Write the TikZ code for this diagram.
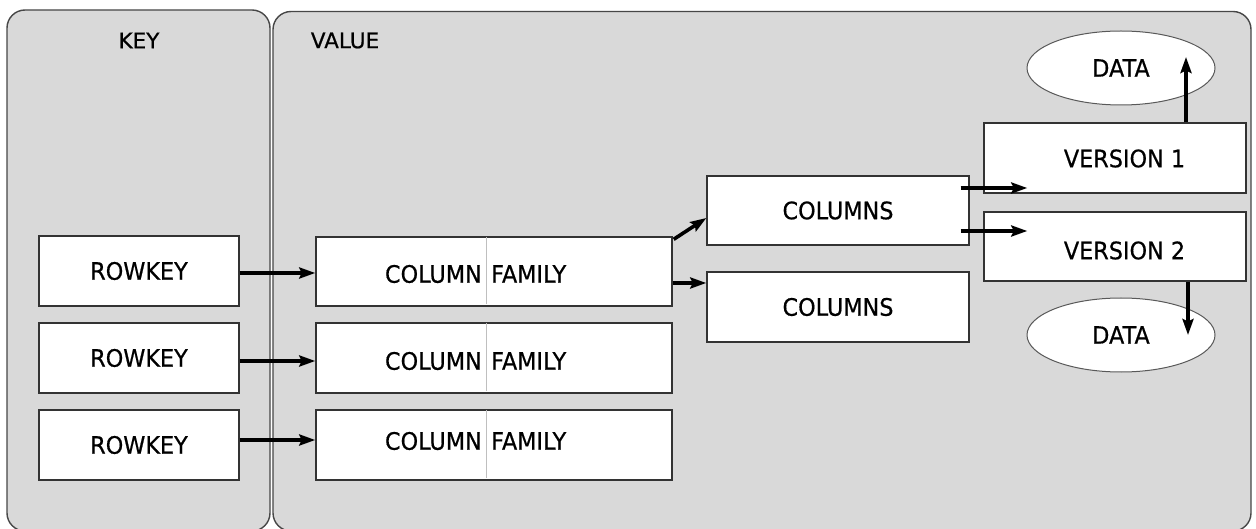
\documentclass[tikz,border=0pt]{standalone}
\usepackage{fontspec}
\setmainfont{DejaVu Sans}[FakeStretch=0.93,FakeBold=0.6]
\newfontfamily\titlefont{DejaVu Sans}[FakeBold=0.6]
\usetikzlibrary{arrows.meta,shapes.geometric,calc}

\begin{document}
\begin{tikzpicture}[x=1pt,y=-1pt,
  panel/.style={draw=black!72, line width=1.4pt, fill=black!15, rounded corners=18pt},
  box/.style={draw=black!80, line width=1.4pt, fill=white, inner sep=0pt,
              font=\fontsize{24}{28}\selectfont},
  lbl/.style={font=\fontsize{24}{28}\selectfont, inner sep=0pt},
  ttl/.style={font=\titlefont\fontsize{21.5}{25}\selectfont, inner sep=0pt},
  dataell/.style={ellipse, draw=black!65, line width=1pt, fill=white,
                  minimum width=188pt, minimum height=74pt, inner sep=0pt,
                  font=\fontsize{24}{28}\selectfont},
  divider/.style={draw=black!25, line width=1pt},
  arr/.style={line width=3.6pt, -{Stealth[length=16pt,width=11pt,inset=2.5pt]}},
]
\useasboundingbox (0,0) rectangle (1256,529);
\fill[white] (0,0) rectangle (1256,529);

% the two panels
\path[panel] (7,10) rectangle (270,531);
\path[panel] (273,11.5) rectangle (1251,531);
\node[ttl] (keyttl) at (139,40.5) {KEY};
\node[ttl] (valttl) at (345,40.5) {VALUE};

% row keys
\node[box, minimum width=200pt, minimum height=70pt] (rk1) at (139,271) {ROWKEY};
\node[box, minimum width=200pt, minimum height=70pt] (rk2) at (139,358) {ROWKEY};
\node[box, minimum width=200pt, minimum height=70pt] (rk3) at (139,445) {ROWKEY};

% column families
\node[box, minimum width=356pt, minimum height=69pt] (cf1) at (494,271.5) {};
\node[box, minimum width=356pt, minimum height=70pt] (cf2) at (494,358) {};
\node[box, minimum width=356pt, minimum height=70pt] (cf3) at (494,445) {};
\foreach \c/\ty in {cf1/274, cf2/361, cf3/441} {
  \draw[divider] ($(\c.north west)+(171,1)$) -- ($(\c.south west)+(171,-3)$);
  \node[lbl, anchor=east] (\c a) at (482,\ty) {COLUMN};
  \node[lbl, anchor=west] (\c b) at (491,\ty) {FAMILY};
}

% columns
\node[box, minimum width=262pt, minimum height=69pt] (col1) at (838,210.5) {COLUMNS};
\node[box, minimum width=262pt, minimum height=70pt] (col2) at (838,307) {COLUMNS};

% versions
\node[box, minimum width=262pt, minimum height=70pt] (v1) at (1115,158) {};
\node[box, minimum width=262pt, minimum height=69pt] (v2) at (1115,246.5) {};
\node[lbl] (v1t) at (1124.5,158.5) {VERSION 1};
\node[lbl] (v2t) at (1124.5,250.5) {VERSION 2};

% data cells
\node[dataell] (d1) at (1121,68) {DATA};
\node[dataell] (d2) at (1121,335) {DATA};

% row keys to column families
\draw[arr] (rk1.east |- 0,273) -- (cf1.west |- 0,273);
\draw[arr] (rk2.east |- 0,361) -- (cf2.west |- 0,361);
\draw[arr] (rk3.east |- 0,440) -- (cf3.west |- 0,440);

% column family to columns
\draw[arr] ($(cf1.north east)+(1,3)$) -- (col1.west |- 0,218);
\draw[arr] (cf1.east |- 0,283) -- (col2.west |- 0,283);

% columns to versions
\draw[arr] ($(col1.east |- 0,188)+(-9,0)$) -- ($(v1.west |- 0,188)+(44,0)$);
\draw[arr] ($(col1.east |- 0,231)+(-9,0)$) -- ($(v2.west |- 0,231)+(44,0)$);

% versions to data
\draw[arr] (v1.north -| 1186,0) -- ($(d1.center)+(65,-11)$);
\draw[arr] (v2.south -| 1188,0) -- ($(d2.center)+(67,0)$);
\end{tikzpicture}
\end{document}
